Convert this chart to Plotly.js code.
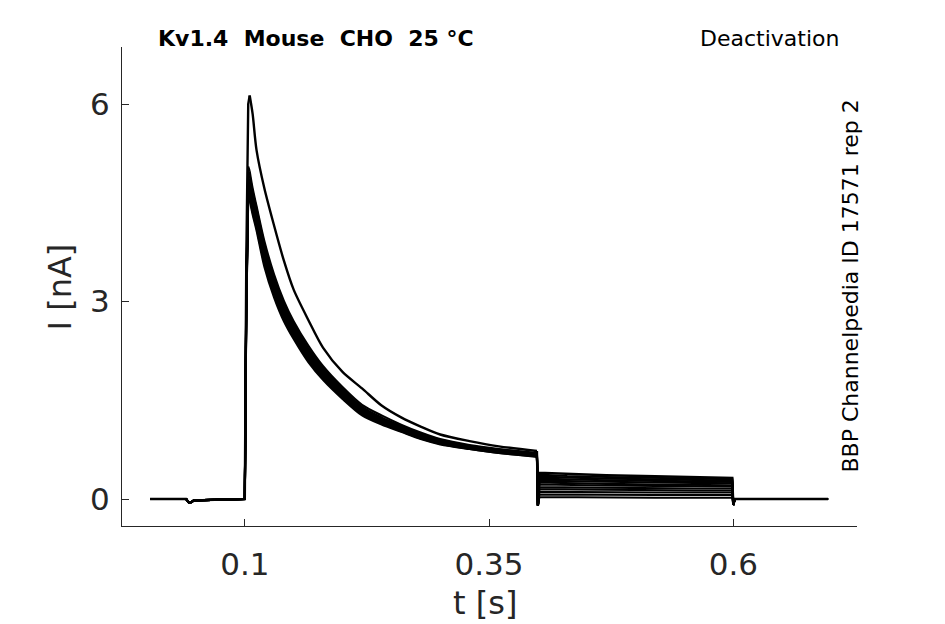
<!DOCTYPE html>
<html>
<head>
<meta charset="utf-8">
<script src="https://cdn.plot.ly/plotly-3.0.1.min.js"></script>
<style>
  html, body { margin: 0; padding: 0; background: #fff; }
  #chart { width: 945px; height: 624px; }
</style>
</head>
<body>
<div id="chart"></div>
<script>
// Kv1.4 deactivation recording
// time points in seconds, currents in nA

// holding period before the pulse
var preTimes = [0.003, 0.04, 0.0425, 0.045, 0.048, 0.0995]
var preValues = [0, 0, -0.05, -0.05, -0.02, 0]

// activating step, 0.1 .. 0.4 s
var stepTimes = [0.1, 0.1015, 0.1035, 0.105, 0.108, 0.112, 0.12, 0.13, 0.14, 0.15, 0.165,
                 0.18, 0.2, 0.22, 0.24, 0.26, 0.28, 0.3, 0.33, 0.36, 0.399]

// first sweep, the one that peaks near 6 nA
var sweep1 = [0, 3.6, 6.0, 6.13, 5.85, 5.30, 4.72, 4.15, 3.62, 3.18, 2.72, 2.30, 1.93, 1.68, 1.42, 1.24, 1.10, 0.98, 0.88, 0.80, 0.73]
// the bundle of later sweeps
var sweep2 = [0, 3.2, 5.05, 4.98, 4.72, 4.45, 3.92, 3.41, 3.01, 2.70, 2.33, 2.02, 1.70, 1.43, 1.27, 1.13, 1.01, 0.91, 0.82, 0.76, 0.70]
var sweep3 = [0, 3.1, 4.98, 4.92, 4.67, 4.41, 3.87, 3.36, 2.96, 2.66, 2.29, 1.99, 1.67, 1.40, 1.24, 1.11, 0.99, 0.90, 0.81, 0.75, 0.69]
var sweep4 = [0, 3.1, 4.92, 4.87, 4.63, 4.37, 3.82, 3.31, 2.92, 2.63, 2.26, 1.96, 1.65, 1.38, 1.22, 1.10, 0.98, 0.89, 0.80, 0.74, 0.68]
var sweep5 = [0, 3.0, 4.86, 4.82, 4.59, 4.33, 3.78, 3.28, 2.90, 2.60, 2.24, 1.95, 1.63, 1.36, 1.21, 1.09, 0.97, 0.88, 0.80, 0.74, 0.68]
var sweep6 = [0, 3.0, 4.82, 4.78, 4.55, 4.30, 3.75, 3.25, 2.87, 2.58, 2.22, 1.93, 1.62, 1.35, 1.20, 1.08, 0.96, 0.87, 0.79, 0.73, 0.67]
var sweep7 = [0, 3.0, 4.78, 4.74, 4.51, 4.27, 3.72, 3.22, 2.85, 2.56, 2.20, 1.91, 1.60, 1.34, 1.19, 1.07, 0.95, 0.86, 0.78, 0.72, 0.67]
var sweep8 = [0, 2.9, 4.74, 4.70, 4.48, 4.24, 3.69, 3.20, 2.83, 2.54, 2.18, 1.90, 1.59, 1.33, 1.18, 1.06, 0.95, 0.86, 0.78, 0.72, 0.66]
var sweep9 = [0, 2.9, 4.70, 4.66, 4.44, 4.20, 3.66, 3.17, 2.80, 2.52, 2.16, 1.88, 1.58, 1.32, 1.17, 1.05, 0.94, 0.85, 0.77, 0.71, 0.66]
var sweep10 = [0, 2.9, 4.66, 4.62, 4.40, 4.16, 3.62, 3.14, 2.78, 2.50, 2.14, 1.86, 1.56, 1.31, 1.16, 1.04, 0.93, 0.84, 0.77, 0.71, 0.65]
var sweep11 = [0, 2.8, 4.62, 4.58, 4.36, 4.12, 3.58, 3.10, 2.74, 2.46, 2.11, 1.83, 1.54, 1.29, 1.15, 1.03, 0.92, 0.84, 0.76, 0.70, 0.65]
var sweep12 = [0, 2.8, 4.58, 4.54, 4.32, 4.08, 3.53, 3.06, 2.70, 2.43, 2.08, 1.81, 1.52, 1.27, 1.13, 1.02, 0.91, 0.83, 0.76, 0.70, 0.64]

// deactivating step, 0.4 .. 0.6 s (first value is the capacitive spike)
var tailTimes = [0.4, 0.4015, 0.43, 0.47, 0.52, 0.56, 0.599]
var tail1 = [-0.10, 0.40, 0.38, 0.36, 0.345, 0.33, 0.32]
var tail2 = [-0.10, 0.37, 0.35, 0.335, 0.32, 0.31, 0.30]
var tail3 = [-0.10, 0.34, 0.325, 0.31, 0.30, 0.29, 0.28]
var tail4 = [-0.10, 0.31, 0.295, 0.285, 0.275, 0.265, 0.26]
var tail5 = [-0.10, 0.28, 0.27, 0.26, 0.25, 0.245, 0.24]
var tail6 = [-0.10, 0.25, 0.24, 0.23, 0.22, 0.215, 0.21]
var tail7 = [-0.10, 0.22, 0.21, 0.205, 0.20, 0.195, 0.19]
var tail8 = [-0.10, 0.18, 0.175, 0.17, 0.165, 0.16, 0.16]
var tail9 = [-0.10, 0.15, 0.145, 0.14, 0.135, 0.13, 0.13]
var tail10 = [-0.10, 0.11, 0.105, 0.10, 0.10, 0.10, 0.10]
var tail11 = [-0.10, 0.07, 0.065, 0.06, 0.06, 0.06, 0.06]
var tail12 = [-0.10, 0.03, 0.025, 0.02, 0.02, 0.02, 0.02]

// back to holding
var endTimes = [0.6, 0.6015, 0.65, 0.697]
var endValues = [-0.09, 0, 0, 0]

var sweeps = [sweep1, sweep2, sweep3, sweep4, sweep5, sweep6, sweep7, sweep8, sweep9, sweep10, sweep11, sweep12]
var tails = [tail1, tail2, tail3, tail4, tail5, tail6, tail7, tail8, tail9, tail10, tail11, tail12]

var xTickVals = [0.1, 0.35, 0.6]
var xTickText = ['0.1', '0.35', '0.6']
var yTickVals = [0, 3, 6]
var yTickText = ['0', '3', '6']

// the pulse edge and the steps stay straight, the decay is drawn smooth
var peakIdx = 3
var data = []
function addPart(xs, ys, shape, w) {
  data.push({
    x: xs,
    y: ys,
    mode: 'lines',
    type: 'scatter',
    line: {color: '#000000', width: w, shape: shape, smoothing: 0.8},
    hoverinfo: 'skip',
    showlegend: false
  })
}
for (var i = 0; i < sweeps.length; i++) {
  var w = i == 0 ? 2.4 : 2.1
  var s = sweeps[i]
  addPart(preTimes.concat(stepTimes.slice(0, peakIdx + 1)),
          preValues.concat(s.slice(0, peakIdx + 1)), 'linear', w)
  addPart(stepTimes.slice(peakIdx), s.slice(peakIdx), 'spline', w)
  addPart([stepTimes[stepTimes.length - 1]].concat(tailTimes, endTimes),
          [s[s.length - 1]].concat(tails[i], endValues), 'linear', w)
}

var axisGray = '#262626'
var font = 'DejaVu Sans, Liberation Sans, sans-serif'

var layout = {
  width: 945,
  height: 624,
  margin: {l: 122, r: 88, t: 47, b: 98},
  paper_bgcolor: '#ffffff',
  plot_bgcolor: '#ffffff',
  showlegend: false,
  xaxis: {
    range: [-0.0257, 0.7266],
    tickvals: xTickVals,
    ticktext: xTickText,
    ticks: 'inside',
    ticklen: 7,
    tickcolor: axisGray,
    tickwidth: 1,
    ticklabelstandoff: 11,
    showline: true,
    linecolor: axisGray,
    linewidth: 1,
    showgrid: false,
    zeroline: false,
    tickfont: {family: font, size: 31, color: axisGray}
  },
  yaxis: {
    range: [-0.41, 6.866],
    tickvals: yTickVals,
    ticktext: yTickText,
    ticks: 'inside',
    ticklen: 7,
    tickcolor: axisGray,
    tickwidth: 1,
    ticklabelstandoff: 5,
    showline: true,
    linecolor: axisGray,
    linewidth: 1,
    showgrid: false,
    zeroline: false,
    tickfont: {family: font, size: 31, color: axisGray}
  },
  annotations: [
    {text: 't [s]', xref: 'paper', yref: 'paper', x: 0.4935, y: -0.16,
     xanchor: 'center', yanchor: 'middle', showarrow: false,
     font: {family: font, size: 32, color: axisGray}},
    {text: 'I [nA]', xref: 'paper', yref: 'paper', x: -0.0844, y: 0.5,
     xanchor: 'center', yanchor: 'middle', textangle: -90, showarrow: false,
     font: {family: font, size: 32, color: axisGray}},
    {text: '<b>Kv1.4  Mouse  CHO  25 °C</b>', xref: 'paper', yref: 'paper', x: 0.046, y: 1.017,
     xanchor: 'left', yanchor: 'middle', showarrow: false,
     font: {family: font, size: 22, color: '#000000'}},
    {text: 'Deactivation', xref: 'paper', yref: 'paper', x: 0.978, y: 1.017,
     xanchor: 'right', yanchor: 'middle', showarrow: false,
     font: {family: font, size: 22, color: '#000000'}},
    {text: 'BBP Channelpedia ID 17571 rep 2', xref: 'paper', yref: 'paper', x: 0.9905, y: 0.5,
     xanchor: 'center', yanchor: 'middle', textangle: -90, showarrow: false,
     font: {family: font, size: 22, color: '#000000'}}
  ]
}

Plotly.newPlot('chart', data, layout, {staticPlot: true, displayModeBar: false})
</script>
</body>
</html>
